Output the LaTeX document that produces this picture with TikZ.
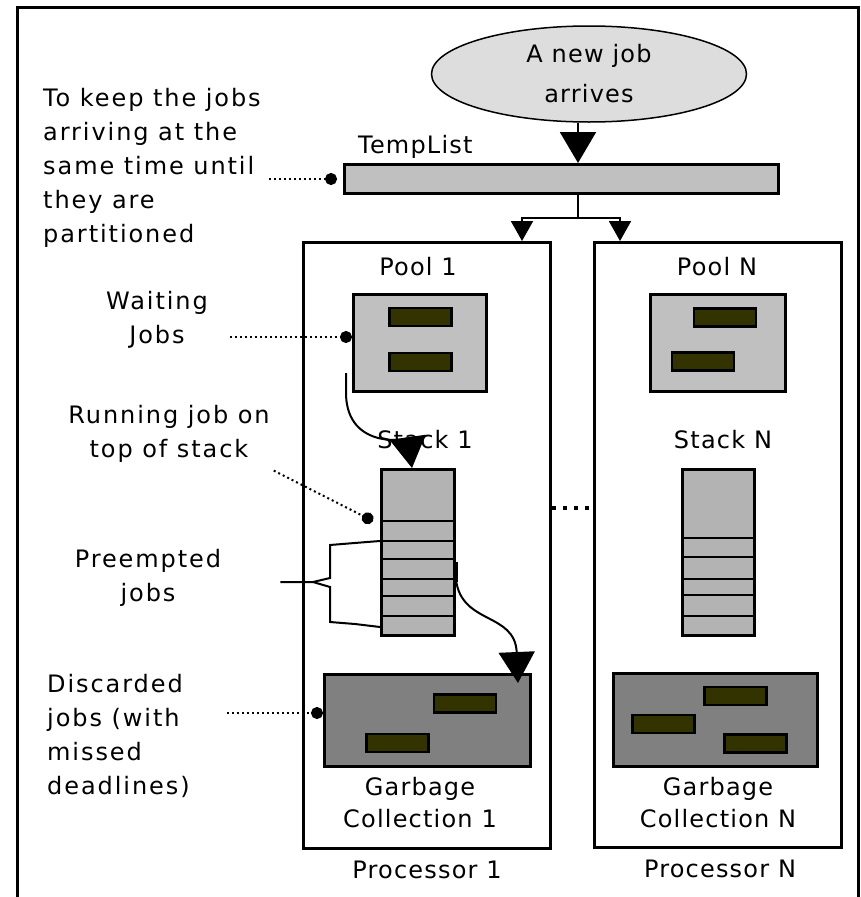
\documentclass[tikz,border=0pt]{standalone}
\usepackage{fontspec}
\setmainfont{DejaVu Sans}[LetterSpace=5]
\newfontfamily\callfont{DejaVu Sans}[LetterSpace=8]
\usetikzlibrary{arrows.meta,shapes.geometric}
\definecolor{ellfill}{HTML}{DDDDDD}
\definecolor{poolfill}{HTML}{C0C0C0}
\definecolor{stackfill}{HTML}{B3B3B3}
\definecolor{bingray}{HTML}{808080}
\definecolor{jobfill}{HTML}{333300}

\begin{document}
\begin{tikzpicture}[x=1pt,y=-1pt,
    lbl/.style={font=\fontsize{24}{32}\selectfont,inner sep=0pt},
    call/.style={font=\callfont\fontsize{24}{34}\selectfont,inner sep=0pt},
    box/.style={draw,line width=3pt,inner sep=0pt},
    jobbar/.style={draw,line width=2.5pt,fill=jobfill,minimum width=62pt,minimum height=18pt,inner sep=0pt},
    callout/.style={line width=2pt,dash pattern=on 2pt off 3pt,-{Circle[length=12pt]}},
    bigtri/.style={line width=2pt,-{Triangle[width=36pt,length=31pt]}},
    smalltri/.style={line width=2pt,-{Triangle[width=22pt,length=20pt]}}]
  \useasboundingbox (0,0) rectangle (861,897);
  \draw[line width=3pt] (17,897) -- (17,7) -- (858,7) -- (858,897);

  % arriving job and the temp list
  \node[ellipse,draw,line width=1.5pt,fill=ellfill,minimum width=315pt,minimum height=96pt,
        inner sep=0pt,align=center,font=\fontsize{24}{40}\selectfont] (newjob) at (589,74) {A new job\\arrives};
  \node[box,fill=poolfill,minimum width=434pt,minimum height=29pt] (templist) at (561.5,179) {};
  \node[lbl,anchor=base west] (templbl) at (358,153) {TempList};

  % processors
  \node[box,minimum width=247pt,minimum height=606pt] (proc1) at (427,545.5) {};
  \node[box,minimum width=247pt,minimum height=605pt] (procN) at (718,545) {};
  \node[lbl,anchor=base] (proc1lbl) at (427,878) {Processor 1};
  \node[lbl,anchor=base] (procNlbl) at (720,877) {Processor N};

  % pools
  \node[box,fill=poolfill,minimum width=133pt,minimum height=97pt] (pool1) at (420,343) {};
  \node[box,fill=poolfill,minimum width=135pt,minimum height=97pt] (poolN) at (718,343) {};
  \node[lbl,anchor=base] (pool1lbl) at (418,275) {Pool 1};
  \node[lbl,anchor=base] (poolNlbl) at (717,275) {Pool N};
  \node[jobbar] (p1a) at (420.5,317) {};
  \node[jobbar] (p1b) at (420.5,362) {};
  \node[jobbar] (pNa) at (725,317.5) {};
  \node[jobbar] (pNb) at (703,361.5) {};

  % stacks
  \node[box,fill=stackfill,minimum width=73pt,minimum height=166pt] (stack1) at (418,552.5) {};
  \node[box,fill=stackfill,minimum width=72pt,minimum height=166pt] (stackN) at (718.5,552.5) {};
  \node[lbl,anchor=base] (stack1lbl) at (425,448) {Stack 1};
  \node[lbl,anchor=base] (stackNlbl) at (723,448) {Stack N};
  \foreach \y in {521,541,559,579,596,616}
    \draw[line width=2pt] (stack1.west |- 0,\y) -- (stack1.east |- 0,\y);
  \foreach \y in {538,557,579,595,616}
    \draw[line width=2pt] (stackN.west |- 0,\y) -- (stackN.east |- 0,\y);

  % garbage collections
  \node[box,fill=bingray,minimum width=206pt,minimum height=92pt] (garbage1) at (427.5,720.5) {};
  \node[box,fill=bingray,minimum width=204pt,minimum height=93pt] (garbageN) at (715.5,720) {};
  \node[lbl,align=center,anchor=north] (garb1lbl) at (420,777) {Garbage\\Collection 1};
  \node[lbl,align=center,anchor=north] (garbNlbl) at (718,777) {Garbage\\Collection N};
  \node[jobbar] (g1a) at (465,703.5) {};
  \node[jobbar] (g1b) at (397.5,743) {};
  \node[jobbar] (gNa) at (735.5,696) {};
  \node[jobbar] (gNb) at (663.5,724) {};
  \node[jobbar] (gNc) at (755.5,743.5) {};

  % notes on the left
  \node[call,align=left,anchor=north west] (keep) at (43,88)
    {To keep the jobs\\arriving at the\\same time until\\they are\\partitioned};
  \node[call,align=center,anchor=north] (waiting) at (157,291) {Waiting\\Jobs};
  \node[call,align=center,anchor=north] (running) at (169,405) {Running job on\\top of stack};
  \node[call,align=center,anchor=north] (preempt) at (148,549) {Preempted\\jobs};
  \node[call,align=left,anchor=north west] (discard) at (47,674)
    {Discarded\\jobs (with\\missed\\deadlines)};

  % flow
  \coordinate (split) at (578,218);
  \draw[bigtri] ([xshift=-11pt]newjob.south) -- (split |- templist.north);
  \draw[line width=2pt] (split |- templist.south) -- (split);
  \draw[smalltri] (split) -| ([xshift=-30pt]proc1.north east);
  \draw[smalltri] (split) -| ([xshift=27pt]procN.north west);
  \draw[bigtri] ([shift={(-6,-20)}]pool1.south west) -- ++(0,22)
    .. controls (348,450) and (408,440) .. (stack1.north -| 412,0 |- 0,528);
  \draw[line width=3.5pt] (stack1.east |- 0,562) -- (stack1.east |- 0,582);
  \draw[bigtri] (stack1.east |- 0,562) -- ++(0,18)
    .. controls (462,625) and (515,612) .. ([shift={(-14,10)}]garbage1.north east);

  % callouts
  \draw[callout] ([xshift=8pt]keep.east |- templist.west) -- ([xshift=-6pt]templist.west);
  \draw[callout] ([xshift=22pt]waiting.east |- 0,337) -- (pool1.west |- 0,337);
  \draw[callout] ([shift={(4,8)}]running.south east) -- ([xshift=-7pt]stack1.west |- 0,521);
  \draw[callout] ([xshift=37pt]discard.east |- 0,713) -- (garbage1.west |- 0,713);
  \coordinate (brace) at (313,582);
  \draw[line width=2pt] ([xshift=59pt]preempt.east |- brace) -- (brace) -- (330,578) -- (330,545)
    -- (367,542) -- (stack1.west |- 0,541);
  \draw[line width=2pt] (brace) -- (330,587) -- (330,622) -- (355,624) -- (stack1.west |- 0,627);
  \draw[line width=4pt,dash pattern=on 4pt off 7pt] (proc1.east |- 0,508) -- (procN.west |- 0,508);
\end{tikzpicture}
\end{document}
